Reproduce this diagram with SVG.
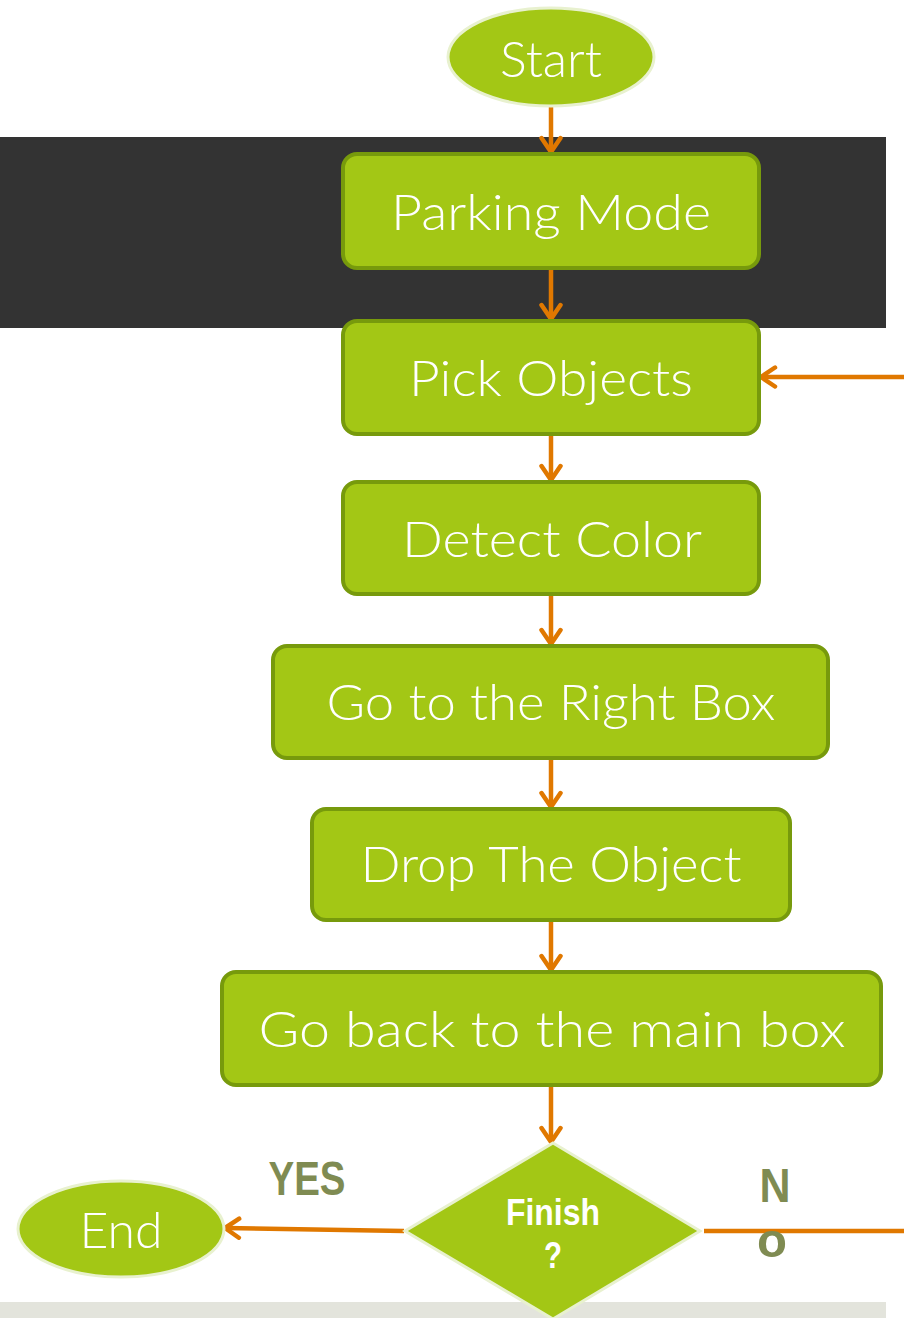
<svg xmlns="http://www.w3.org/2000/svg" width="904" height="1318" viewBox="0 0 904 1318">
  <defs>
    <style>
      .box { fill: #a3c715; stroke: #779a0c; stroke-width: 4; }
      .oval { fill: #a3c715; stroke: #e8f1cf; stroke-width: 3; }
      .lbl { font-family: Lato, "Open Sans", sans-serif; font-weight: 300; fill: #ffffff; text-anchor: middle; }
      .big { font-size: 50px; }
      .tag { font-family: "Liberation Sans", Arial, sans-serif; font-weight: 700; fill: #7f8b52; text-anchor: middle; }
      .dec { font-family: "Liberation Sans", Arial, sans-serif; font-weight: 700; fill: #ffffff; text-anchor: middle; font-size: 37px; }
      .flow { stroke: #e07800; stroke-width: 4.5; fill: none; }
    </style>
    <marker id="head" viewBox="0 0 24 24" refX="21" refY="12" markerWidth="24" markerHeight="24" markerUnits="userSpaceOnUse" orient="auto">
      <path d="M7 2.5 L21 12 L7 21.5" fill="none" stroke="#e07800" stroke-width="4.5" stroke-linecap="round" stroke-linejoin="round"/>
    </marker>
  </defs>

  <!-- background bands -->
  <rect x="0" y="137" width="886" height="191" fill="#333333"/>
  <rect x="0" y="1302" width="886" height="16" fill="#e3e4dc"/>

  <!-- connectors -->
  <g id="connectors">
    <line class="flow" x1="551" y1="107" x2="551" y2="152" marker-end="url(#head)"/>
    <line class="flow" x1="551" y1="268" x2="551" y2="319" marker-end="url(#head)"/>
    <line class="flow" x1="551" y1="434" x2="551" y2="480" marker-end="url(#head)"/>
    <line class="flow" x1="551" y1="594" x2="551" y2="644" marker-end="url(#head)"/>
    <line class="flow" x1="551" y1="758" x2="551" y2="807" marker-end="url(#head)"/>
    <line class="flow" x1="551" y1="920" x2="551" y2="970" marker-end="url(#head)"/>
    <line class="flow" x1="551" y1="1085" x2="551" y2="1142" marker-end="url(#head)"/>
    <line class="flow" x1="404" y1="1231" x2="225" y2="1228" marker-end="url(#head)"/>
    <line class="flow" x1="704" y1="1231" x2="904" y2="1231"/>
    <line class="flow" x1="904" y1="377" x2="761" y2="377" marker-end="url(#head)"/>
  </g>

  <g id="start">
    <ellipse class="oval" cx="551" cy="57" rx="103" ry="49"/>
    <text class="lbl big" x="551" y="77" textLength="102" lengthAdjust="spacingAndGlyphs">Start</text>
  </g>

  <g id="parking-mode">
    <rect class="box" x="343" y="154" width="416" height="114" rx="14"/>
    <text class="lbl big" x="551" y="230" textLength="320" lengthAdjust="spacingAndGlyphs">Parking Mode</text>
  </g>

  <g id="pick-objects">
    <rect class="box" x="343" y="321" width="416" height="113" rx="14"/>
    <text class="lbl big" x="551" y="396" textLength="284" lengthAdjust="spacingAndGlyphs">Pick Objects</text>
  </g>

  <g id="detect-color">
    <rect class="box" x="343" y="482" width="416" height="112" rx="14"/>
    <text class="lbl big" x="552" y="557" textLength="300" lengthAdjust="spacingAndGlyphs">Detect Color</text>
  </g>

  <g id="go-right-box">
    <rect class="box" x="273" y="646" width="555" height="112" rx="14"/>
    <text class="lbl big" x="551" y="720" textLength="449" lengthAdjust="spacingAndGlyphs">Go to the Right Box</text>
  </g>

  <g id="drop-object">
    <rect class="box" x="312" y="809" width="478" height="111" rx="14"/>
    <text class="lbl big" x="551" y="882" textLength="381" lengthAdjust="spacingAndGlyphs">Drop The Object</text>
  </g>

  <g id="go-back">
    <rect class="box" x="222" y="972" width="659" height="113" rx="14"/>
    <text class="lbl big" x="552" y="1047" textLength="587" lengthAdjust="spacingAndGlyphs">Go back to the main box</text>
  </g>

  <g id="finish">
    <polygon points="553,1143 700,1231 553,1319 405,1231" fill="#a3c715" stroke="#e8f1cf" stroke-width="3"/>
    <text class="dec" x="553" y="1225" textLength="94" lengthAdjust="spacingAndGlyphs">Finish</text>
    <text class="dec" x="553" y="1268" textLength="18" lengthAdjust="spacingAndGlyphs">?</text>
  </g>

  <g id="end">
    <ellipse class="oval" cx="121" cy="1229" rx="103" ry="48"/>
    <text class="lbl big" x="121" y="1248" textLength="83" lengthAdjust="spacingAndGlyphs">End</text>
  </g>

  <g id="branch-labels">
    <text class="tag" x="307" y="1195" font-size="48" textLength="77" lengthAdjust="spacingAndGlyphs">YES</text>
    <text class="tag" x="775" y="1202" font-size="48" textLength="31" lengthAdjust="spacingAndGlyphs">N</text>
    <text class="tag" x="772" y="1257" font-size="48" textLength="30" lengthAdjust="spacingAndGlyphs">o</text>
  </g>
</svg>
